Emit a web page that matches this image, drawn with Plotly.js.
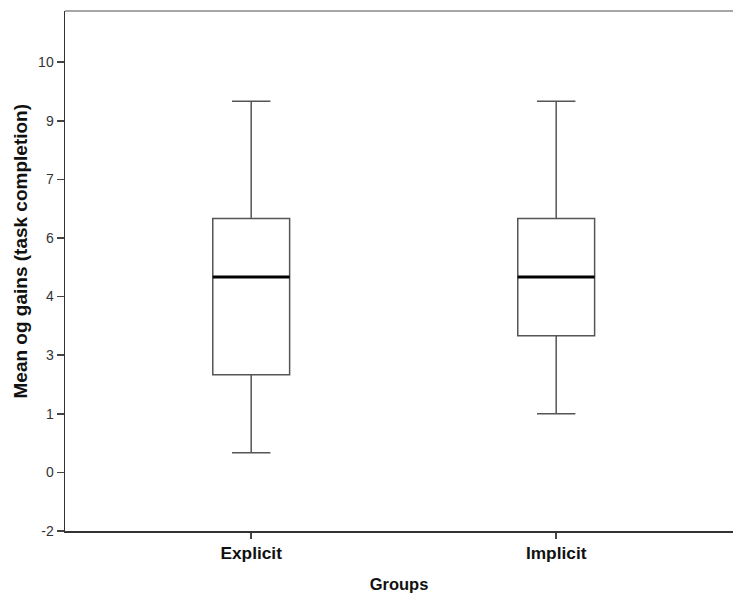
<!DOCTYPE html>
<html>
<head>
<meta charset="utf-8">
<script src="https://cdn.plot.ly/plotly-3.0.1.min.js"></script>
<style>
html,body{margin:0;padding:0;background:#fff;}
#chart{width:733px;height:594px;}
</style>
</head>
<body>
<div id="chart"></div>
<script>
// ---- data ----
var groups = ["Explicit", "Implicit"];
var groupPos = [0, 1];
var lowerWhisker = [0, 1];
var q1 = [2, 3];
var median = [4.5, 4.5];
var q3 = [6, 6];
var upperWhisker = [9, 9];
var yTickVals = [-2, -0.5, 1, 2.5, 4, 5.5, 7, 8.5, 10];
var yTickText = ["-2", "0", "1", "3", "4", "6", "7", "9", "10"];
var xTitle = "Groups";
var yTitle = "Mean og gains (task completion)";

// ---- style ----
var boxW = 0.252;
var FONT = "Liberation Sans, Arial, sans-serif";

var traces = [{
  type: "box",
  x: groupPos,
  q1: q1,
  median: median,
  q3: q3,
  lowerfence: lowerWhisker,
  upperfence: upperWhisker,
  width: boxW,
  whiskerwidth: 0.5,
  fillcolor: "#ffffff",
  line: {color: "#555555", width: 1.5},
  hoverinfo: "skip",
  showlegend: false
}];

groupPos.forEach(function (c, i) {
  traces.push({
    type: "scatter",
    mode: "lines",
    x: [c - boxW / 2, c + boxW / 2],
    y: [median[i], median[i]],
    line: {color: "#000000", width: 3},
    hoverinfo: "skip",
    showlegend: false
  });
});

var layout = {
  width: 733,
  height: 594,
  margin: {l: 65, r: 0, t: 11, b: 63},
  paper_bgcolor: "#ffffff",
  plot_bgcolor: "#ffffff",
  showlegend: false,
  font: {family: FONT, color: "#222222"},
  xaxis: {
    range: [-0.6105, 1.5797],
    tickmode: "array",
    tickvals: groupPos,
    ticktext: groups,
    ticks: "outside",
    ticklen: 6,
    tickwidth: 1.5,
    tickcolor: "#444444",
    tickfont: {family: FONT, size: 17.3, weight: 700, color: "#111111"},
    showgrid: false,
    zeroline: false,
    showline: true,
    linecolor: "#333333",
    linewidth: 1.5,
    title: {text: xTitle, font: {family: FONT, size: 16.5, weight: 700, color: "#111111"}, standoff: 16}
  },
  yaxis: {
    range: [-2, 11.31],
    tickmode: "array",
    tickvals: yTickVals,
    ticktext: yTickText,
    ticks: "outside",
    ticklen: 7,
    tickwidth: 1.5,
    tickcolor: "#444444",
    tickfont: {family: FONT, size: 14, color: "#333333"},
    showgrid: false,
    zeroline: false,
    showline: true,
    linecolor: "#333333",
    linewidth: 1.5
  },
  annotations: [{
    text: yTitle,
    xref: "paper", yref: "paper",
    x: 0, y: 0.5375,
    xanchor: "center", yanchor: "middle",
    xshift: -45,
    textangle: -90,
    showarrow: false,
    font: {family: FONT, size: 19, weight: 700, color: "#111111"}
  }],
  shapes: [{
    type: "line", xref: "paper", yref: "paper",
    x0: 0, x1: 1, y0: 1, y1: 1,
    line: {color: "#888888", width: 1.5}
  }]
};

Plotly.newPlot("chart", traces, layout, {staticPlot: true, displayModeBar: false});
</script>
</body>
</html>
